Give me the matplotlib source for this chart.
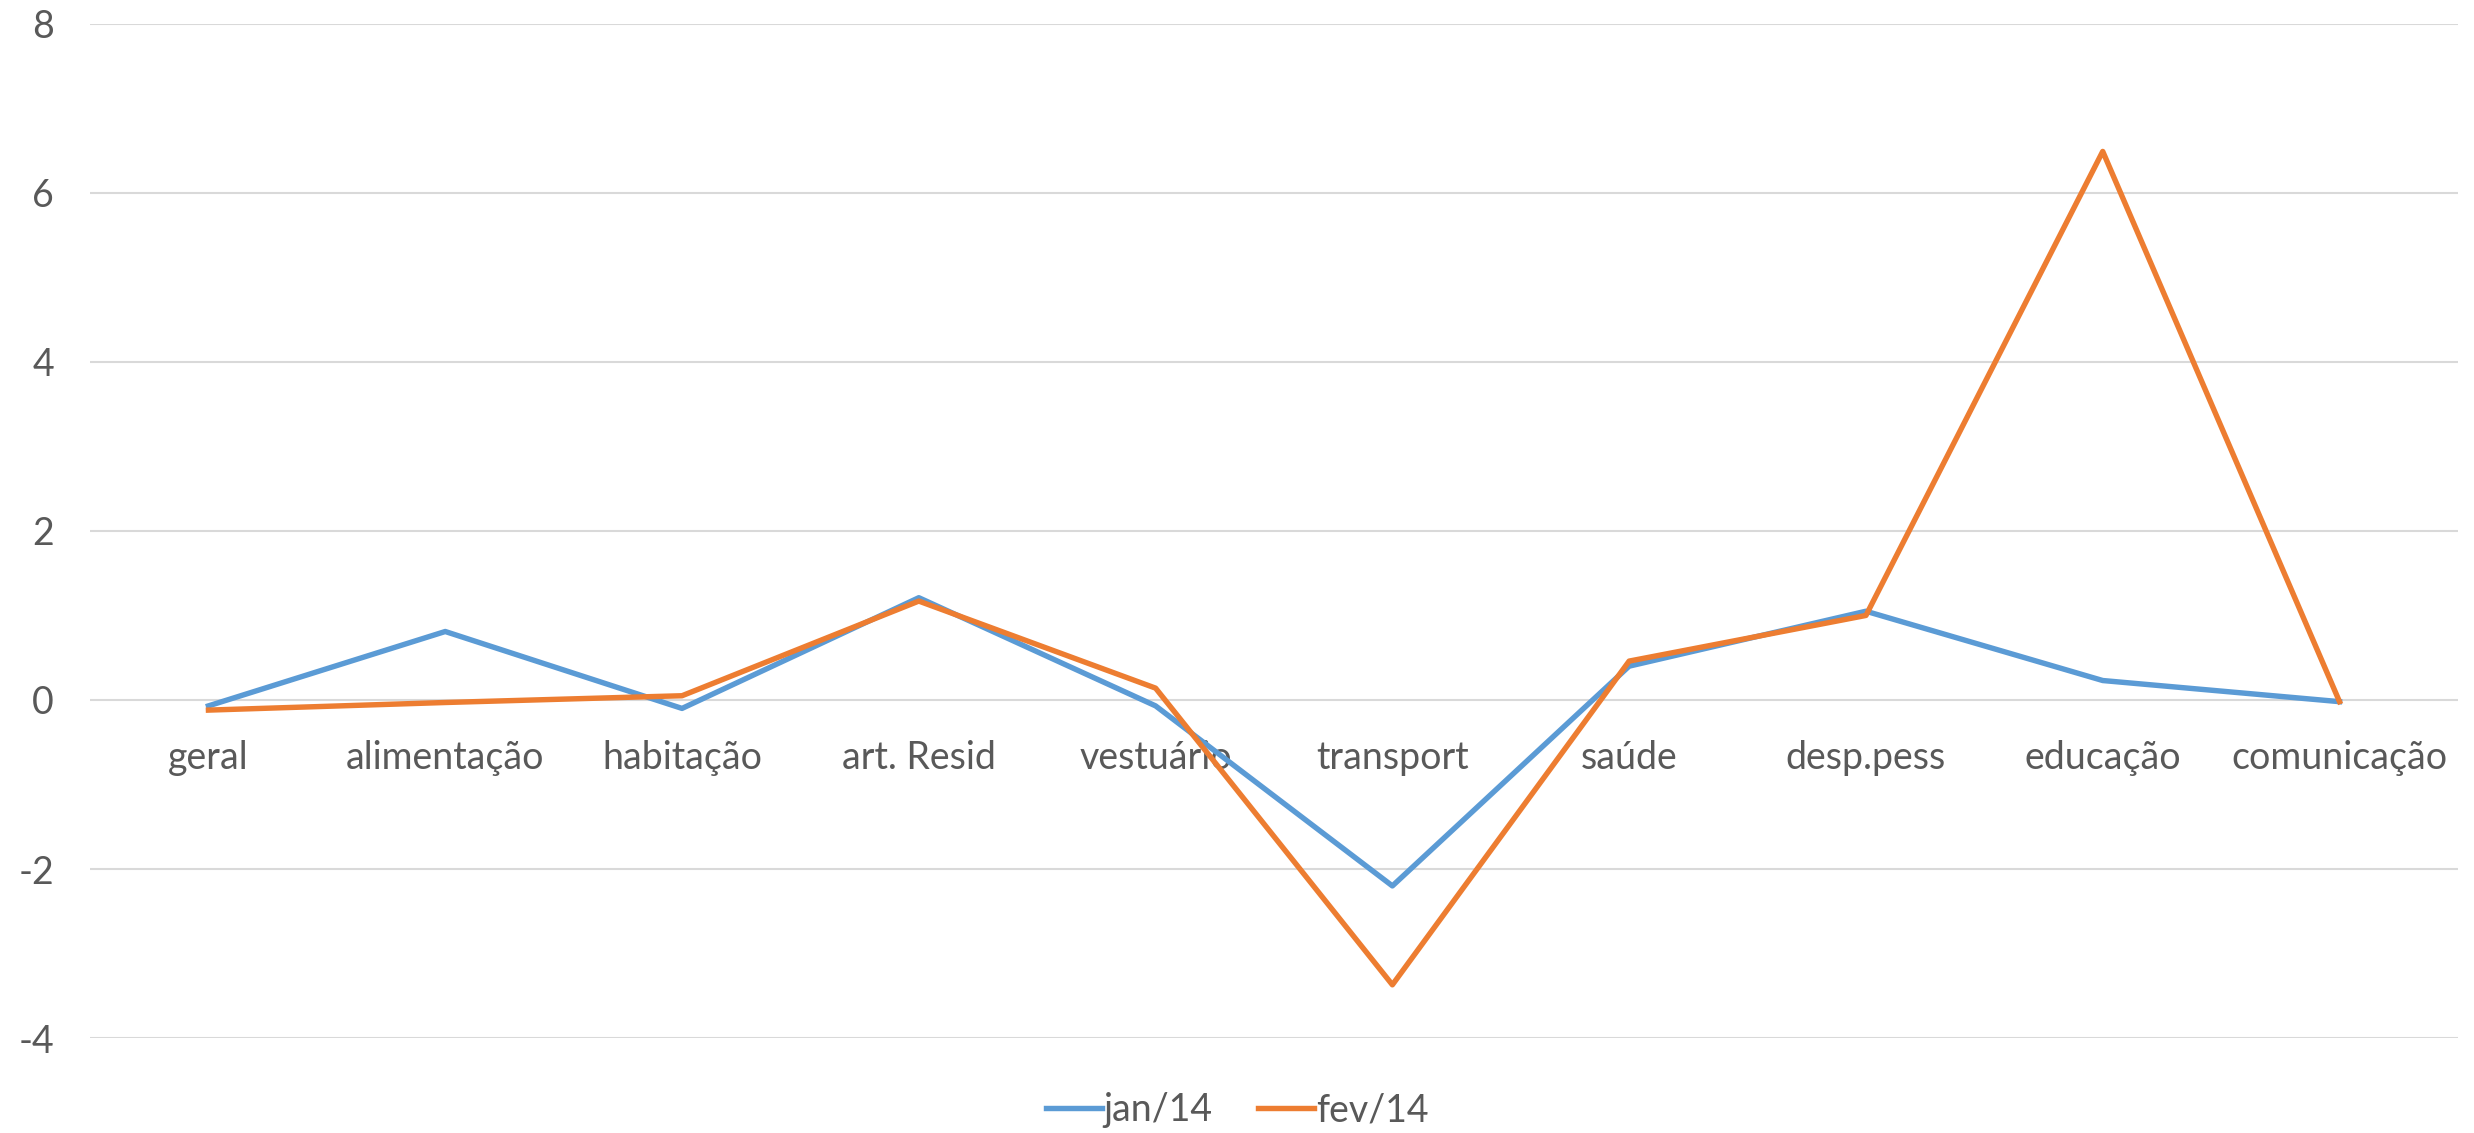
import numpy as np
import matplotlib.pyplot as plt

categories = ['geral', 'alimentação', 'habitação', 'art. Resid', 'vestuário',
              'transport', 'saúde', 'desp.pess', 'educação', 'comunicação']
jan14 = [-0.07, 0.81, -0.10, 1.21, -0.07, -2.20, 0.40, 1.05, 0.23, -0.02]
fev14 = [-0.12, -0.03, 0.05, 1.17, 0.14, -3.37, 0.46, 1.00, 6.49, -0.02]
yticks = [-4, -2, 0, 2, 4, 6, 8]

plt.rcParams['font.family'] = ['Lato', 'DejaVu Sans']
plt.rcParams['axes.unicode_minus'] = False
text_color = '#595959'

fig = plt.figure(figsize=(24.74, 11.33), dpi=100)
ax = fig.add_axes([0.0364, 0.0838, 0.9571, 0.8952])

x = np.arange(len(categories))
ax.plot(x, jan14, color='#5B9BD5', lw=3.9, label='jan/14', solid_joinstyle='round', zorder=3)
ax.plot(x, fev14, color='#ED7D31', lw=3.9, label='fev/14', solid_joinstyle='round', zorder=3)

ax.set_xlim(-0.5, len(categories) - 0.5)
ax.set_ylim(-4, 8)
ax.set_yticks(yticks)
ax.yaxis.grid(True, color='#D9D9D9', lw=1.5)
ax.set_axisbelow(True)

for s in ['left', 'right', 'top']:
    ax.spines[s].set_visible(False)
ax.spines['bottom'].set_position(('data', 0))
ax.spines['bottom'].set_visible(False)

ax.set_xticks(x)
ax.set_xticklabels(categories)
ax.tick_params(axis='x', length=0, pad=29, labelsize=27, labelcolor=text_color)
ax.tick_params(axis='y', length=0, pad=26, labelsize=27, labelcolor=text_color)

ax.legend(loc='center', bbox_to_anchor=(0.5, 0.02), bbox_transform=fig.transFigure,
          ncol=2, frameon=False, fontsize=27, labelcolor=text_color,
          handlelength=1.5, handletextpad=0.05, columnspacing=1.2)

fig.savefig('out.png', dpi=100)
